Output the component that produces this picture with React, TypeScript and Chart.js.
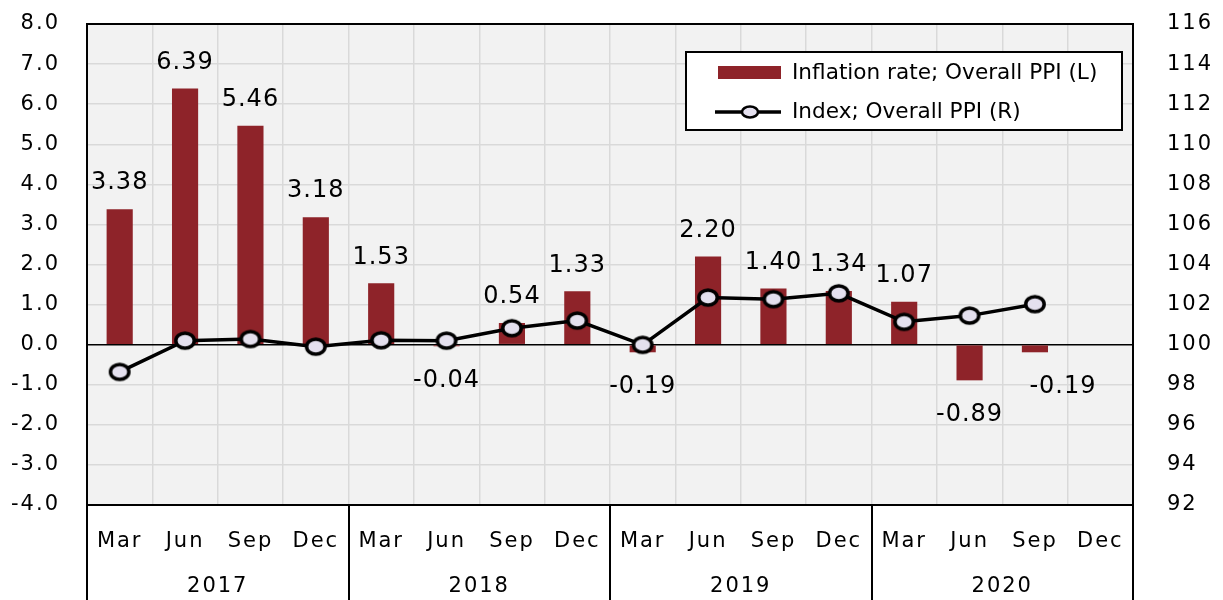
import React, { useEffect, useRef } from 'react';
import { Chart, registerables } from 'chart.js';

Chart.register(...registerables);

// ---- Data ----
const months = ['Mar', 'Jun', 'Sep', 'Dec', 'Mar', 'Jun', 'Sep', 'Dec', 'Mar', 'Jun', 'Sep', 'Dec', 'Mar', 'Jun', 'Sep', 'Dec'];
const years = ['2017', '2018', '2019', '2020'];
const inflationRate: (number | null)[] = [3.38, 6.39, 5.46, 3.18, 1.53, -0.04, 0.54, 1.33, -0.19, 2.2, 1.4, 1.34, 1.07, -0.89, -0.19, null];
const ppiIndex: (number | null)[] = [98.64, 100.2, 100.28, 99.9, 100.22, 100.2, 100.82, 101.2, 99.99, 102.35, 102.27, 102.56, 101.14, 101.45, 102.02, null];
const seriesNames = ['Inflation rate; Overall PPI (L)', 'Index; Overall PPI (R)'];
const leftAxis = { min: -4, max: 8, step: 1 };
const rightAxis = { min: 92, max: 116, step: 2 };
// horizontal nudge (px) of individual value labels, as placed in the original
const labelNudge: Record<number, number> = { 14: 28 };

const FONT = 'DejaVu Sans';
const BAR_COLOR = '#8E2329';
const POINT_FILL = '#E4E0EE';
const GRID = '#D9D9D9';
const PLOT_BG = '#F2F2F2';
const TICK_SPACING = '2px';

function makeMarker(rx: number, ry: number, lw: number): HTMLCanvasElement {
  const w = Math.ceil(2 * rx + lw + 2);
  const h = Math.ceil(2 * ry + lw + 2);
  const c = document.createElement('canvas');
  c.width = w;
  c.height = h;
  const g = c.getContext('2d')!;
  g.beginPath();
  g.ellipse(w / 2, h / 2, rx, ry, 0, 0, Math.PI * 2);
  g.fillStyle = POINT_FILL;
  g.fill();
  g.lineWidth = lw;
  g.strokeStyle = '#000';
  g.stroke();
  return c;
}

const decorPlugin = {
  id: 'decor',
  beforeDraw(chart: any) {
    const { ctx, chartArea } = chart;
    (ctx as any).letterSpacing = TICK_SPACING;
    ctx.save();
    ctx.fillStyle = PLOT_BG;
    ctx.fillRect(chartArea.left, chartArea.top, chartArea.right - chartArea.left, chartArea.bottom - chartArea.top);
    ctx.restore();
  },
  afterDraw(chart: any) {
    const { ctx, chartArea } = chart;
    const xs = chart.scales.x;
    ctx.save();
    // plot border
    ctx.strokeStyle = '#000';
    ctx.lineWidth = 2;
    ctx.strokeRect(chartArea.left, chartArea.top, chartArea.right - chartArea.left, chartArea.bottom - chartArea.top);
    // year separators in the axis table
    const bounds = [-0.5, 3.5, 7.5, 11.5, 15.5];
    ctx.beginPath();
    bounds.forEach((b) => {
      const px = Math.round(xs.getPixelForValue(b));
      ctx.moveTo(px, chartArea.bottom);
      ctx.lineTo(px, chart.height);
    });
    ctx.stroke();

    // value labels (bar dataset is index 1)
    (ctx as any).letterSpacing = '1px';
    ctx.fillStyle = '#000';
    ctx.font = `24px "${FONT}"`;
    ctx.textAlign = 'center';
    ctx.textBaseline = 'middle';
    const meta = chart.getDatasetMeta(1);
    meta.data.forEach((bar: any, i: number) => {
      const v = inflationRate[i];
      if (v === null || v === undefined) return;
      const { x, y } = bar.getProps(['x', 'y'], true);
      ctx.fillText(v.toFixed(2), x + (labelNudge[i] || 0), v >= 0 ? y - 26 : y + 34);
    });

    // legend
    (ctx as any).letterSpacing = '0px';
    const bw = 436, bh = 78;
    const bx = chartArea.right - 11 - bw;
    const by = chartArea.top + 28;
    ctx.fillStyle = '#fff';
    ctx.fillRect(bx, by, bw, bh);
    ctx.strokeStyle = '#000';
    ctx.lineWidth = 2;
    ctx.strokeRect(bx, by, bw, bh);
    ctx.font = `21.6px "${FONT}"`;
    ctx.textAlign = 'left';
    ctx.textBaseline = 'middle';
    ctx.fillStyle = BAR_COLOR;
    ctx.fillRect(bx + 32, by + 14, 63, 13);
    ctx.fillStyle = '#000';
    ctx.fillText(seriesNames[0], bx + 106, by + 21);
    const ly = by + 60;
    ctx.beginPath();
    ctx.moveTo(bx + 29, ly);
    ctx.lineTo(bx + 95, ly);
    ctx.lineWidth = 3.5;
    ctx.stroke();
    ctx.beginPath();
    ctx.ellipse(bx + 64, ly, 8, 5.5, 0, 0, Math.PI * 2);
    ctx.fillStyle = POINT_FILL;
    ctx.fill();
    ctx.lineWidth = 2.5;
    ctx.stroke();
    ctx.fillStyle = '#000';
    ctx.fillText(seriesNames[1], bx + 106, ly);
    ctx.restore();
    (ctx as any).letterSpacing = TICK_SPACING;
  },
};

const noPad = (s: any) => {
  s.paddingTop = 0;
  s.paddingBottom = 0;
  s.paddingLeft = 0;
  s.paddingRight = 0;
};

export default function App() {
  const ref = useRef<HTMLCanvasElement | null>(null);

  useEffect(() => {
    if (!ref.current) return;
    const tickFont = { family: FONT, size: 21 };
    const marker = makeMarker(9.2, 7.6, 3.5);
    const chart = new Chart(ref.current, {
      type: 'bar',
      data: {
        labels: months,
        datasets: [
          {
            type: 'line',
            label: seriesNames[1],
            data: ppiIndex,
            yAxisID: 'y1',
            borderColor: '#000',
            borderWidth: 3.5,
            pointStyle: marker,
            pointRadius: 10,
            pointBorderWidth: 3.5,
            pointBackgroundColor: POINT_FILL,
            pointBorderColor: '#000',
            order: 0,
            spanGaps: false,
          } as any,
          {
            type: 'bar',
            label: seriesNames[0],
            data: inflationRate,
            yAxisID: 'y',
            backgroundColor: BAR_COLOR,
            barPercentage: 0.4,
            categoryPercentage: 1,
            order: 1,
          } as any,
        ],
      },
      options: {
        animation: false,
        responsive: true,
        maintainAspectRatio: false,
        layout: { padding: { top: 16, left: 0, right: 0, bottom: 0 } },
        plugins: { legend: { display: false }, tooltip: { enabled: false } },
        scales: {
          x: {
            type: 'category',
            position: 'bottom',
            weight: 0,
            offset: true,
            grid: { color: GRID, lineWidth: 1.5, offset: true, drawTicks: false },
            border: { display: false },
            ticks: { color: '#000', font: tickFont, padding: 24, maxRotation: 0, autoSkip: false },
            afterFit: (s: any) => { s.height = 58; noPad(s); },
          },
          x2: {
            type: 'category',
            position: 'bottom',
            weight: 1,
            labels: years,
            offset: true,
            grid: { display: false, drawTicks: false },
            border: { display: false },
            ticks: { color: '#000', font: tickFont, padding: 11, maxRotation: 0 },
            afterFit: (s: any) => { s.height = 45; noPad(s); },
          },
          y: {
            type: 'linear',
            position: 'left',
            min: leftAxis.min,
            max: leftAxis.max,
            ticks: {
              stepSize: leftAxis.step,
              color: '#000',
              font: tickFont,
              padding: 27,
              callback: (v: any) => Number(v).toFixed(1),
            },
            grid: {
              drawTicks: false,
              lineWidth: 1.5,
              color: (c: any) => (c.tick && c.tick.value === 0 ? '#000' : GRID),
            },
            border: { display: false },
            afterFit: (s: any) => { s.width = 79; noPad(s); },
          },
          y1: {
            type: 'linear',
            position: 'right',
            min: rightAxis.min,
            max: rightAxis.max,
            ticks: { stepSize: rightAxis.step, color: '#000', font: tickFont, padding: 34 },
            grid: { display: false, drawTicks: false },
            border: { display: false },
            afterFit: (s: any) => { s.width = 82; noPad(s); },
          },
        },
      } as any,
      plugins: [decorPlugin],
    });
    return () => chart.destroy();
  }, []);

  return (
    <div style={{ width: 1207, height: 600, position: 'relative' }}>
      <canvas ref={ref} />
    </div>
  );
}
